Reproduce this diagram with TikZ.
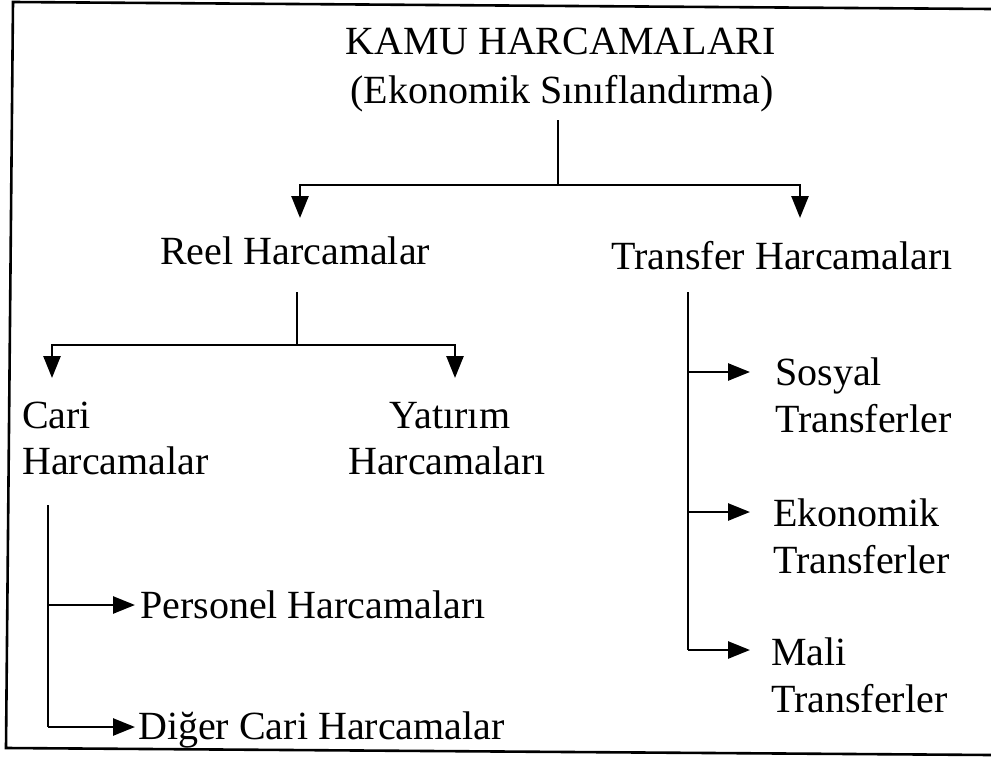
\documentclass[tikz,border=0pt]{standalone}
\usepackage{fontspec}
\setmainfont{Liberation Serif}
\usetikzlibrary{arrows.meta}
\begin{document}
\begin{tikzpicture}[x=1pt,y=-1pt,
  ln/.style={line width=2.6pt},
  arr/.style={ln, -{Triangle[length=22pt,width=17pt]}},
  lbl/.style={inner sep=0pt, font=\fontsize{40}{46}\selectfont}]
\useasboundingbox (0,0) rectangle (991,760);
% frame (open on the right)
\draw[ln] (991,9) -- (13,2) -- (6,748) -- (991,755);
% texts
\node[lbl, anchor=base] (t1) at (561,55) {KAMU HARCAMALARI};
\node[lbl, anchor=base] (t2) at (562,103) {(Ekonomik Sınıflandırma)};
\node[lbl, anchor=base west] (reel) at (160,264) {Reel Harcamalar};
\node[lbl, anchor=base west] (trans) at (611,269) {Transfer Harcamaları};
\node[lbl, anchor=base west] (cari1) at (22,428) {Cari};
\node[lbl, anchor=base west] (cari2) at (22,474) {Harcamalar};
\node[lbl, anchor=base] (yat1) at (450,428) {Yatırım};
\node[lbl, anchor=base] (yat2) at (447,474) {Harcamaları};
\node[lbl, anchor=base west] (pers) at (140,618) {Personel Harcamaları};
\node[lbl, anchor=base west] (diger) at (138,739) {Diğer Cari Harcamalar};
\node[lbl, anchor=base west] (sos1) at (775,385) {Sosyal};
\node[lbl, anchor=base west] (sos2) at (775,432) {Transferler};
\node[lbl, anchor=base west] (eko1) at (773,526) {Ekonomik};
\node[lbl, anchor=base west] (eko2) at (773,573) {Transferler};
\node[lbl, anchor=base west] (mali1) at (771,665) {Mali};
\node[lbl, anchor=base west] (mali2) at (771,712) {Transferler};
% junction coordinates
\coordinate (t2b) at (558,120);
\coordinate (j1) at (558,185);
\coordinate (reelT) at (300,218);
\coordinate (transT) at (800,218);
\coordinate (reelB) at (297,292);
\coordinate (j2) at (297,345);
\coordinate (cariT) at (52,378);
\coordinate (yatT) at (455,378);
\coordinate (cariB) at (48,505);
\coordinate (persJ) at (48,605);
\coordinate (digJ) at (48,727);
\coordinate (persT) at (135,605);
\coordinate (digT) at (135,727);
\coordinate (transB) at (688,292);
\coordinate (sosJ) at (688,372);
\coordinate (ekoJ) at (688,512);
\coordinate (maliJ) at (688,650);
\coordinate (sosT) at (750,372);
\coordinate (ekoT) at (750,512);
\coordinate (maliT) at (750,650);
% connectors
\draw[ln] (t2b) -- (j1);
\draw[arr] (j1) -| (reelT);
\draw[arr] (j1) -| (transT);
\draw[ln] (reelB) -- (j2);
\draw[arr] (j2) -| (cariT);
\draw[arr] (j2) -| (yatT);
\draw[ln] (cariB) -- (digJ);
\draw[arr] (persJ) -- (persT);
\draw[arr] (digJ) -- (digT);
\draw[ln] (transB) -- (maliJ);
\draw[arr] (sosJ) -- (sosT);
\draw[arr] (ekoJ) -- (ekoT);
\draw[arr] (maliJ) -- (maliT);
\end{tikzpicture}
\end{document}
